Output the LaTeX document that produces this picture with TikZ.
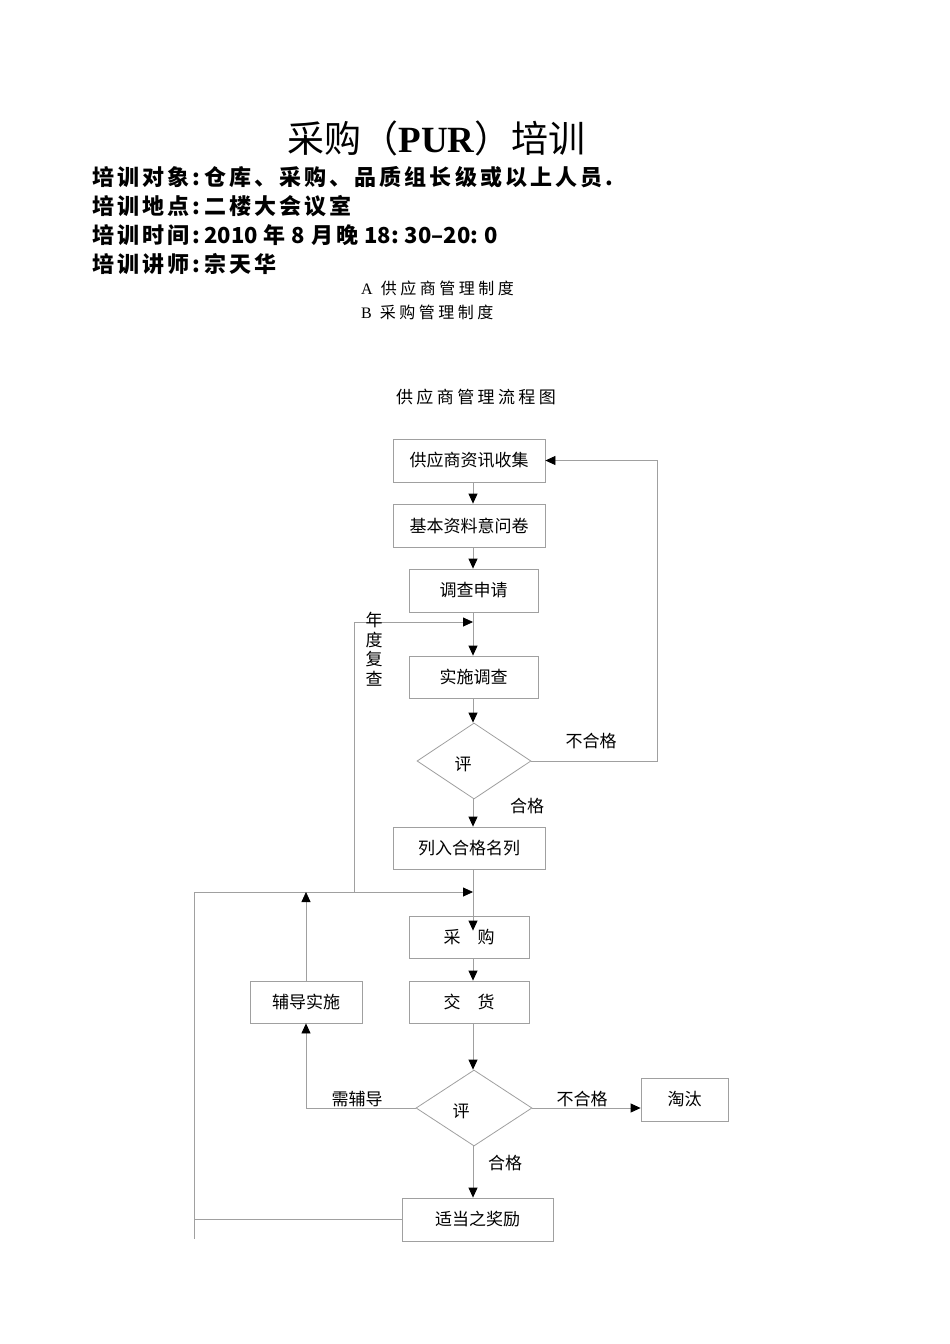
\documentclass[tikz,border=0pt]{standalone}
\usepackage{fontspec}
\setmainfont{Liberation Serif}
\newfontfamily\cjk{Noto Sans CJK SC}
\newfontfamily\cjkinfo[LetterSpace=14]{Noto Sans CJK SC}
\newfontfamily\cjkab[LetterSpace=22]{Noto Sans CJK SC}
\newfontfamily\cjkhd[LetterSpace=20]{Noto Sans CJK SC}
\usetikzlibrary{arrows.meta,shapes.geometric}
\definecolor{lgray}{RGB}{160,160,160}
\newcommand\fsz[1]{\fontsize{#1pt}{#1pt}\selectfont}
\newcommand\dg[1]{{\cjk #1}}
\newcommand\gp{\hspace{6pt}}
\begin{document}
\begin{tikzpicture}[x=1pt,y=-1pt,
  box/.style={draw=lgray,line width=0.8pt,inner sep=0pt,font=\cjk\fsz{17}},
  dia/.style={diamond,draw=lgray,line width=0.8pt,inner sep=0pt},
  lbl/.style={inner sep=0pt,font=\cjk\fsz{17}},
  con/.style={draw=lgray,line width=0.8pt},
  arr/.style={con,-{Triangle[length=10pt,width=9pt,color=black]}},
  info/.style={anchor=west,inner sep=0pt,font=\cjkinfo\bfseries\fsz{22}}
]
\fill[white] (0,0) rectangle (950,1344);
\useasboundingbox (0,0) rectangle (950,1344);

% title and header
\node[inner sep=0pt,font=\fsz{37}] (title) at (436.5,138) {{\cjk 采购（}{\bfseries PUR}{\cjk ）培训}};
\node[info] (i1) at (92,177) {培训对象:\hspace{4pt}仓库、采购、品质组长级或以上人员.};
\node[info] (i2) at (92,206) {培训地点:\hspace{4pt}二楼大会议室};
\node[info] (i3) at (92,235) {培训时间:\hspace{4pt}\dg{2010}\gp 年\gp\dg{8}\gp 月晚\gp\dg{18:}\gp\dg{30–20:}\gp\dg{0}};
\node[info] (i4) at (92,264) {培训讲师:\hspace{4pt}宗天华};
\node[anchor=west,inner sep=0pt,font=\fsz{16}] (la) at (361,288) {A\hspace{8pt}{\cjkab 供应商管理制度}};
\node[anchor=west,inner sep=0pt,font=\fsz{16}] (lb) at (361,312) {B\hspace{8pt}{\cjkab 采购管理制度}};
\node[inner sep=0pt,font=\cjkhd\fsz{17}] (hd) at (476,397) {供应商管理流程图};

% flowchart nodes
\node[box,minimum width=152pt,minimum height=43pt] (n1) at (469,460.5) {供应商资讯收集};
\node[box,minimum width=152pt,minimum height=43pt] (n2) at (469,525.5) {基本资料意问卷};
\node[box,minimum width=129pt,minimum height=43pt] (n3) at (473.5,590.5) {调查申请};
\node[box,minimum width=129pt,minimum height=42pt] (n4) at (473.5,677) {实施调查};
\node[dia,minimum width=114pt,minimum height=76pt] (d1) at (474,761) {};
\node[lbl] (t1) at (463,764) {评};
\node[box,minimum width=152pt,minimum height=42pt] (n5) at (469,848) {列入合格名列};
\node[box,minimum width=120pt,minimum height=42pt] (n6) at (469,937) {采\quad 购};
\node[box,minimum width=120pt,minimum height=42pt] (n7) at (469,1002) {交\quad 货};
\node[box,minimum width=112pt,minimum height=42pt] (n8) at (306,1002) {辅导实施};
\node[dia,minimum width=116pt,minimum height=76pt] (d2) at (474,1108) {};
\node[lbl] (t2) at (461,1111) {评};
\node[box,minimum width=87pt,minimum height=43pt] (n9) at (684.5,1099.5) {淘汰};
\node[box,minimum width=151pt,minimum height=43pt] (n10) at (477.5,1219.5) {适当之奖励};

% helper coordinates
\coordinate (ax) at (473,0);
\coordinate (rx) at (657,0);
\coordinate (lx) at (194,0);
\coordinate (j1) at (473,622);
\coordinate (j2) at (473,892);
\coordinate (yb) at (354,892);

% connectors
\draw[arr] (n1.south -| ax) -- (n2.north -| ax);
\draw[arr] (n2.south -| ax) -- (n3.north -| ax);
\draw[arr] (n3.south -| ax) -- (n4.north -| ax);
\draw[arr] (n4.south -| ax) -- (d1.north -| ax);
\draw[arr] (d1.south -| ax) -- (n5.north -| ax);
\draw[arr] (n5.south -| ax) -- ([yshift=-15pt]n6.north -| ax);
\draw[arr] (n6.south -| ax) -- (n7.north -| ax);
\draw[arr] (n7.south -| ax) -- (d2.north -| ax);
\draw[arr] (d2.south -| ax) -- (n10.north -| ax);
\draw[arr] (d1.east) -- (d1.east -| rx) -- (n1.east -| rx) -- (n1.east);
\draw[arr] (yb) -- (yb |- j1) -- (j1);
\draw[arr] (n10.west) -- (n10.west -| lx) -- (lx |- j2) -- (j2);
\draw[con] (n10.west -| lx) -- ++(0,19);
\draw[arr] (d2.west) -- (d2.west -| n8.south) -- (n8.south);
\draw[arr] (n8.north) -- (n8.north |- j2);
\draw[arr] (d2.east) -- (d2.east -| n9.west);

% labels
\node[lbl] (l1) at (591,741) {不合格};
\node[lbl] (l2) at (527,806) {合格};
\node[lbl] (l3) at (357,1099) {需辅导};
\node[lbl] (l4) at (582,1099) {不合格};
\node[lbl] (l5) at (505,1163) {合格};
\node[lbl,align=center,font=\cjk\fontsize{17pt}{19.5pt}\selectfont] (l6) at (374,649) {年\\度\\复\\查};
\end{tikzpicture}
\end{document}
